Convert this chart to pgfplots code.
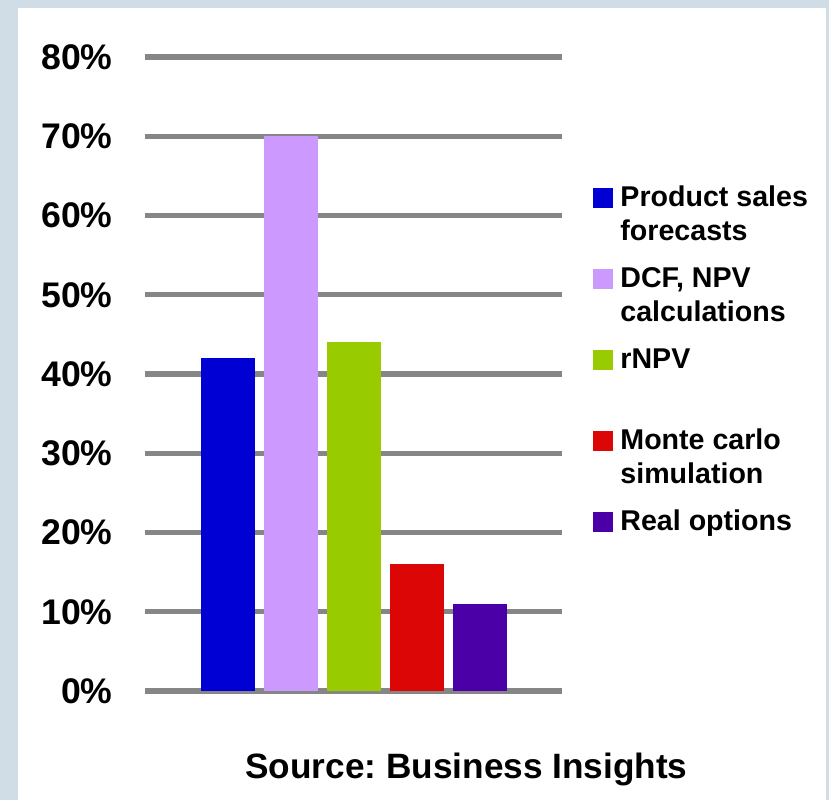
\documentclass[border=0pt]{standalone}
\usepackage{pgfplots}
\pgfplotsset{compat=1.18}
\usepackage{fontspec}
\setmainfont{Liberation Sans}
\frenchspacing
\definecolor{bordercol}{HTML}{D0DCE6}
\definecolor{gridcol}{HTML}{868686}
\definecolor{cblue}{HTML}{0000D4}
\definecolor{clilac}{HTML}{CC99FF}
\definecolor{cgreen}{HTML}{99CC00}
\definecolor{cred}{HTML}{DD0606}
\definecolor{cpurple}{HTML}{4A00A6}
\begin{document}
\begin{tikzpicture}[x=1pt,y=1pt]
\fill[bordercol] (0,0) rectangle (414.5,-400);
\fill[white] (9,-4) rectangle (413,-400);
\begin{axis}[
  at={(72.5pt,-345.5pt)}, anchor=south west,
  scale only axis, width=208.5pt, height=317pt,
  xmin=0, xmax=417, ymin=0, ymax=80,
  axis line style={draw=none},
  ytick={0,10,...,80}, xtick=\empty,
  ymajorgrids, grid style={gridcol, line width=2.6pt},
  tick style={draw=none},
  /pgf/number format/assume math mode=true,
  yticklabel={\pgfmathprintnumber{\tick}\%},
  yticklabel style={font=\bfseries\fontsize{17.8}{20}\selectfont, anchor=east, inner sep=0pt, xshift=-16pt},
  ybar, bar width=27pt, bar shift=0pt,
  clip=false,
  legend cell align=left,
  legend image code/.code={\fill[#1] (-1pt,7.5pt) rectangle (9pt,17.5pt);},
  legend style={draw=none, fill=none, at={(1.0600,0.809)}, anchor=north west,
    font=\bfseries\fontsize{14.3}{17}\selectfont, row sep=0pt, column sep=1.5pt,
    nodes={text height=10pt, text depth=26.5pt, inner sep=2pt}},
]
\addplot[fill=cblue, draw=none] coordinates {(83,42)};
\addlegendentry{\parbox[t]{95pt}{Product sales\\forecasts}}
\addplot[fill=clilac, draw=none] coordinates {(146,70)};
\addlegendentry{\parbox[t]{95pt}{DCF, NPV\\calculations}}
\addplot[fill=cgreen, draw=none] coordinates {(209,44)};
\addlegendentry{\parbox[t]{95pt}{rNPV}}
\addplot[fill=cred, draw=none] coordinates {(272,16)};
\addlegendentry{\parbox[t]{95pt}{Monte carlo\\simulation}}
\addplot[fill=cpurple, draw=none] coordinates {(335,11)};
\addlegendentry{\parbox[t]{95pt}{Real options}}
\end{axis}
\node[font=\bfseries\fontsize{17.6}{21}\selectfont, anchor=base] at (233.25,-389) {Source: Business Insights};
\pgfresetboundingbox
\path[use as bounding box] (0,0) rectangle (414.5,-400);
\end{tikzpicture}
\end{document}
